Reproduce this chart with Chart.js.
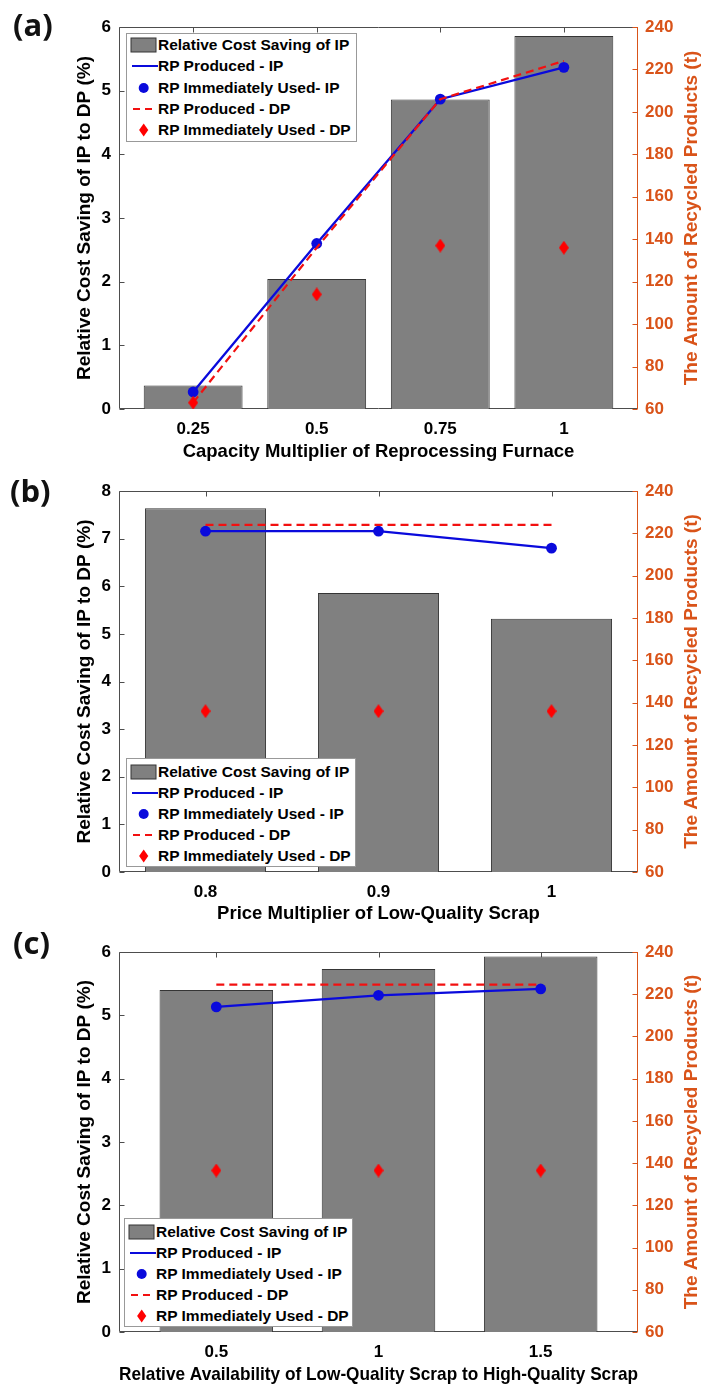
<!DOCTYPE html>
<html><head><meta charset="utf-8">
<script src="https://cdn.jsdelivr.net/npm/chart.js@4.4.0/dist/chart.umd.min.js"></script>
<style>
html,body{margin:0;padding:0;background:#fff;}
body{width:702px;height:1389px;position:relative;overflow:hidden;font-family:'Liberation Sans',Arial,sans-serif;}
canvas.panel{position:absolute;left:0;}
.plabel{position:absolute;font-family:'Open Sans',Lato,sans-serif;font-weight:700;font-size:31px;line-height:1;color:#111;}
.legend{position:absolute;background:#fff;border:1px solid #999;box-sizing:border-box;font-weight:700;font-size:15.5px;color:#000;}
.legend .row{position:absolute;left:0;height:20px;line-height:20px;white-space:nowrap;width:100%;}
.legend svg{position:absolute;left:2px;top:2px;}
.legend span{position:absolute;left:31px;top:0;}
</style></head>
<body>
<canvas id="cA" class="panel" width="702" height="465" style="top:0px"></canvas>
<canvas id="cB" class="panel" width="702" height="460" style="top:465px"></canvas>
<canvas id="cC" class="panel" width="702" height="464" style="top:925px"></canvas>
<div class="plabel" style="left:13px;top:9px">(a)</div>
<div class="plabel" style="left:10px;top:475px">(b)</div>
<div class="plabel" style="left:13px;top:927px">(c)</div>
<script>
// ---------- data ----------
const catA = [0.25, 0.5, 0.75, 1];
const tickLabelsA = ['0.25', '0.5', '0.75', '1'];
const costSavingA = [0.37, 2.04, 4.86, 5.86];
const rpProducedIP_A = [68, 138, 206, 221];
const rpUsedIP_A = [68, 138, 206, 221];
const rpProducedDP_A = [63, 136, 206, 224];
const rpUsedDP_A = [63, 114, 137, 136];

const catB = [0.8, 0.9, 1];
const tickLabelsB = ['0.8', '0.9', '1'];
const costSavingB = [7.64, 5.86, 5.32];
const rpProducedIP_B = [221, 221, 213];
const rpUsedIP_B = [221, 221, 213];
const rpProducedDP_B = [224, 224, 224];
const rpUsedDP_B = [136, 136, 136];

const catC = [0.5, 1, 1.5];
const tickLabelsC = ['0.5', '1', '1.5'];
const costSavingC = [5.40, 5.73, 5.93];
const rpProducedIP_C = [214, 219.5, 222.5];
const rpUsedIP_C = [214, 219.5, 222.5];
const rpProducedDP_C = [224.5, 224.5, 224.5];
const rpUsedDP_C = [136.5, 136.5, 136.5];

const rightTicks = [60, 80, 100, 120, 140, 160, 180, 200, 220, 240];

const legendLabelsA = ['Relative Cost Saving of IP', 'RP Produced - IP', 'RP Immediately Used- IP', 'RP Produced - DP', 'RP Immediately Used - DP'];
const legendLabelsBC = ['Relative Cost Saving of IP', 'RP Produced - IP', 'RP Immediately Used - IP', 'RP Produced - DP', 'RP Immediately Used - DP'];

const xTitleA = 'Capacity Multiplier of Reprocessing Furnace';
const xTitleB = 'Price Multiplier of Low-Quality Scrap';
const xTitleC = 'Relative Availability of Low-Quality Scrap to High-Quality Scrap';
const yTitleL = 'Relative Cost Saving of IP to DP (%)';
const yTitleR = 'The Amount of Recycled Products (t)';

// ---------- styles ----------
const BLUE = '#0a0adc';
const RED = '#f21010';
const ORANGE = '#d95319';
const AXIS = '#4d4d4d';
const FONT = "'Liberation Sans', Arial, sans-serif";

function pts(xs, ys) { return xs.map((x, i) => ({x: x, y: ys[i]})); }

function diamond(w, h, color) {
  const c = document.createElement('canvas');
  c.width = w; c.height = h;
  const g = c.getContext('2d');
  g.fillStyle = color;
  g.beginPath();
  g.moveTo(w / 2, 0); g.lineTo(w, h / 2); g.lineTo(w / 2, h); g.lineTo(0, h / 2);
  g.closePath(); g.fill();
  return c;
}
const diamondImg = diamond(10, 14, '#ff0000');

const framePlugin = {
  id: 'frame',
  beforeDatasetsDraw(chart) {
    const {ctx, chartArea: a, scales} = chart;
    const L = Math.round(a.left) + 0.5, R = Math.round(a.right) - 0.5;
    const T = Math.round(a.top) + 0.5, B = Math.round(a.bottom) - 0.5;
    ctx.save();
    ctx.lineWidth = 1;
    ctx.strokeStyle = AXIS;
    ctx.beginPath();
    ctx.moveTo(R, T); ctx.lineTo(L, T); ctx.lineTo(L, B); ctx.lineTo(R, B);
    scales.y.ticks.forEach(t => {
      const y = Math.round(scales.y.getPixelForValue(t.value)) + 0.5;
      ctx.moveTo(L, y); ctx.lineTo(L + 5, y);
    });
    scales.x.ticks.forEach(t => {
      const x = Math.round(scales.x.getPixelForValue(t.value)) + 0.5;
      ctx.moveTo(x, T); ctx.lineTo(x, T + 5);
      ctx.moveTo(x, B); ctx.lineTo(x, B - 5);
    });
    ctx.stroke();
    ctx.strokeStyle = ORANGE;
    ctx.beginPath();
    ctx.moveTo(R, T - 0.5); ctx.lineTo(R, B + 0.5);
    scales.y1.ticks.forEach(t => {
      const y = Math.round(scales.y1.getPixelForValue(t.value)) + 0.5;
      ctx.moveTo(R, y); ctx.lineTo(R - 5, y);
    });
    ctx.stroke();
    ctx.restore();
  }
};

const rightTitlePlugin = {
  id: 'rightTitle',
  afterDraw(chart) {
    const {ctx, chartArea: a} = chart;
    ctx.save();
    ctx.fillStyle = ORANGE;
    ctx.font = 'bold 19px ' + FONT;
    ctx.textAlign = 'center';
    ctx.textBaseline = 'middle';
    ctx.translate(692, (a.top + a.bottom) / 2);
    ctx.rotate(-Math.PI / 2);
    ctx.fillText(yTitleR, 0, 0);
    ctx.restore();
  }
};

function makeChart(id, p) {
  return new Chart(document.getElementById(id), {
    type: 'bar',
    data: {datasets: [
      {type: 'bar', label: p.legend[0], data: pts(p.cats, p.cost), yAxisID: 'y',
       backgroundColor: '#808080', borderColor: '#353535', borderWidth: 1,
       barPercentage: p.barPct, categoryPercentage: 1, order: 5},
      {type: 'line', label: p.legend[1], data: pts(p.cats, p.prodIP), yAxisID: 'y1',
       borderColor: BLUE, borderWidth: 2.3, pointRadius: 0, fill: false, tension: 0, order: 4},
      {type: 'line', label: p.legend[2], data: pts(p.cats, p.usedIP), yAxisID: 'y1',
       showLine: false, pointRadius: 5.4, pointBackgroundColor: BLUE, pointBorderColor: BLUE, pointBorderWidth: 0, order: 3},
      {type: 'line', label: p.legend[3], data: pts(p.cats, p.prodDP), yAxisID: 'y1',
       borderColor: RED, borderWidth: 2.2, borderDash: [8, 5], pointRadius: 0, fill: false, tension: 0, order: 2},
      {type: 'line', label: p.legend[4], data: pts(p.cats, p.usedDP), yAxisID: 'y1',
       showLine: false, pointStyle: diamondImg, pointRadius: 7, order: 1}
    ]},
    options: {
      responsive: false, animation: false, events: [],
      layout: {padding: {top: p.top, left: 0, right: 0, bottom: 0}},
      plugins: {legend: {display: false}, tooltip: {enabled: false}},
      scales: {
        x: {type: 'linear', position: 'bottom', min: p.xmin, max: p.xmax, offset: false,
            grid: {display: false, drawTicks: false, offset: false}, border: {display: false},
            afterBuildTicks: s => { s.ticks = p.cats.map(v => ({value: v})); },
            afterFit: s => { s.height = p.xh; },
            ticks: {autoSkip: false, maxRotation: 0, padding: 10, color: '#000',
                    font: {family: FONT, size: 17, weight: 'bold'},
                    callback: (v, i) => p.tickLabels[i]},
            title: {display: true, text: p.xtitle, color: '#000',
                    font: {family: FONT, size: 18.5, weight: 'bold'}, padding: {top: 0, bottom: p.xtpb}}},
        y: {type: 'linear', position: 'left', min: 0, max: p.ymax,
            grid: {display: false, drawTicks: false}, border: {display: false},
            afterFit: s => { s.width = 119; },
            ticks: {stepSize: 1, padding: 8, color: '#000', font: {family: FONT, size: 17, weight: 'bold'}},
            title: {display: true, text: yTitleL, color: '#000',
                    font: {family: FONT, size: 19, weight: 'bold'}, padding: {top: 73, bottom: 0}}},
        y1: {type: 'linear', position: 'right', min: 60, max: 240,
             grid: {display: false, drawTicks: false}, border: {display: false},
             afterBuildTicks: s => { s.ticks = rightTicks.map(v => ({value: v})); },
             afterFit: s => { s.width = 64; },
             ticks: {padding: 7, color: ORANGE, font: {family: FONT, size: 17, weight: 'bold'}}}
      }
    },
    plugins: [framePlugin, rightTitlePlugin]
  });
}

makeChart('cA', {cats: catA, tickLabels: tickLabelsA, cost: costSavingA, prodIP: rpProducedIP_A, usedIP: rpUsedIP_A,
  prodDP: rpProducedDP_A, usedDP: rpUsedDP_A, legend: legendLabelsA, barPct: 0.8, xmin: 0.1, xmax: 1.15,
  ymax: 6, top: 27, xh: 56, xtpb: 2, xtitle: xTitleA});
makeChart('cB', {cats: catB, tickLabels: tickLabelsB, cost: costSavingB, prodIP: rpProducedIP_B, usedIP: rpUsedIP_B,
  prodDP: rpProducedDP_B, usedDP: rpUsedDP_B, legend: legendLabelsBC, barPct: 0.7, xmin: 0.75, xmax: 1.05,
  ymax: 8, top: 26, xh: 53, xtpb: 0, xtitle: xTitleB});
makeChart('cC', {cats: catC, tickLabels: tickLabelsC, cost: costSavingC, prodIP: rpProducedIP_C, usedIP: rpUsedIP_C,
  prodDP: rpProducedDP_C, usedDP: rpUsedDP_C, legend: legendLabelsBC, barPct: 0.7, xmin: 0.2, xmax: 1.8,
  ymax: 6, top: 27, xh: 57, xtpb: 3, xtitle: xTitleC});

// ---------- HTML legends ----------
const icons = [
  '<rect x="2" y="1" width="25" height="14" fill="#808080" stroke="#353535" stroke-width="1"/>',
  '<line x1="3" y1="8" x2="29" y2="8" stroke="' + BLUE + '" stroke-width="2"/>',
  '<circle cx="14.7" cy="8" r="5" fill="' + BLUE + '"/>',
  '<line x1="4" y1="8" x2="25" y2="8" stroke="' + RED + '" stroke-width="2" stroke-dasharray="7 5"/>',
  '<polygon points="14.7,1.5 19.3,8 14.7,14.5 10.1,8" fill="#ff0000"/>'
];
function makeLegend(labels, box) {
  const d = document.createElement('div');
  d.className = 'legend';
  d.style.left = box.left + 'px'; d.style.top = box.top + 'px';
  d.style.width = box.w + 'px'; d.style.height = box.h + 'px';
  labels.forEach((lab, i) => {
    const r = document.createElement('div');
    r.className = 'row';
    r.style.top = (box.first + box.step * i - 10 - 1) + 'px';
    r.innerHTML = '<svg width="30" height="16" viewBox="0 0 30 16">' + icons[i] + '</svg><span>' + lab + '</span>';
    d.appendChild(r);
  });
  document.body.appendChild(d);
}
makeLegend(legendLabelsA, {left: 126, top: 33, w: 231, h: 109, first: 12, step: 21.3});
makeLegend(legendLabelsBC, {left: 126, top: 758, w: 230, h: 109, first: 13.7, step: 21});
makeLegend(legendLabelsBC, {left: 124, top: 1218, w: 229, h: 109, first: 14, step: 21});
</script>
</body></html>
